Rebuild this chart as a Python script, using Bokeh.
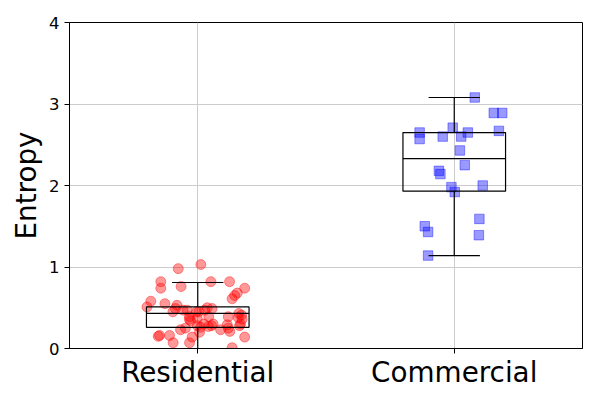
from bokeh.plotting import figure
from bokeh.models import Range1d, FixedTicker
from bokeh.embed import file_html
from bokeh.resources import INLINE

# ---- data ----
categories = ["Residential", "Commercial"]
positions = [1, 2]

res_values = [1.03, 0.98, 0.82, 0.74, 0.76, 0.82, 0.82, 0.74, 0.68, 0.65,
              0.61, 0.58, 0.51, 0.55, 0.53, 0.49, 0.45, 0.47, 0.47, 0.39,
              0.34, 0.45, 0.50, 0.49, 0.47, 0.45, 0.39, 0.37, 0.39, 0.38,
              0.36, 0.30, 0.28, 0.30, 0.28, 0.23, 0.25, 0.21, 0.26, 0.28,
              0.23, 0.25, 0.14, 0.01, 0.15, 0.16, 0.16, 0.07, 0.07, 0.14,
              0.20, 0.41, 0.43, 0.29, 0.27, 0.30, 0.36]
res_jitter = [0.012, -0.076, -0.144, -0.144, -0.065, 0.051, 0.124, 0.183, 0.154, 0.144,
              0.134, -0.183, -0.198, -0.128, -0.081, -0.087, -0.097, -0.057, -0.041, -0.032,
              -0.028, -0.005, 0.037, 0.056, 0.027, 0.004, 0.043, -0.002, 0.119, 0.158,
              0.173, 0.167, 0.163, 0.024, 0.054, 0.089, 0.119, 0.125, 0.011, -0.002,
              -0.067, -0.048, 0.183, 0.134, -0.154, -0.149, -0.110, -0.096, -0.032, -0.022,
              0.007, 0.171, 0.160, 0.115, 0.041, 0.060, -0.033]

com_values = [3.08, 2.89, 2.89, 2.65, 2.57, 2.71, 2.60, 2.60, 2.65, 2.67, 2.43,
              2.25, 2.18, 2.14, 1.98, 1.92, 2.00, 1.59, 1.50, 1.43, 1.39, 1.14]
com_jitter = [0.080, 0.154, 0.187, -0.135, -0.135, -0.006, -0.045, 0.027, 0.053, 0.174, 0.022,
              0.041, -0.060, -0.054, -0.011, 0.002, 0.111, 0.098, -0.115, -0.102, 0.096, -0.102]

# box statistics: [Residential, Commercial]
q1 = [0.26, 1.93]
median = [0.43, 2.33]
q3 = [0.51, 2.65]
whisker_low = [0.0, 1.14]
whisker_high = [0.81, 3.08]

y_ticks = [0, 1, 2, 3, 4]

FONT = "DejaVu Sans"
BOX_HALF = 0.2
CAP_HALF = 0.1

p = figure(frame_width=513, frame_height=326, output_backend="svg",
           toolbar_location=None, x_range=Range1d(0.5, 2.5), y_range=Range1d(0, 4),
           min_border_left=69, min_border_right=6, min_border_top=22, min_border_bottom=45)
p.background_fill_color = "white"
p.border_fill_color = "white"
p.outline_line_color = "black"
p.outline_line_width = 1

# grid
for g in (p.xgrid, p.ygrid):
    g.grid_line_color = "#cccccc"
    g.grid_line_width = 1
p.xgrid.ticker = FixedTicker(ticks=positions)
p.ygrid.ticker = FixedTicker(ticks=y_ticks)

# points
res_x = [positions[0] + j for j in res_jitter]
com_x = [positions[1] + j for j in com_jitter]
p.scatter(res_x, res_values, marker="circle", size=10, color="red", alpha=0.4)
p.scatter(com_x, com_values, marker="square", size=9.5, color="blue", alpha=0.4)

# boxes
left = [x - BOX_HALF for x in positions]
right = [x + BOX_HALF for x in positions]
p.quad(left=left, right=right, bottom=q1, top=q3, fill_color=None,
       line_color="black", line_width=1.2)
p.segment(x0=left, x1=right, y0=median, y1=median, line_color="black", line_width=1.2)
p.segment(x0=positions, x1=positions, y0=q3, y1=whisker_high, line_color="black", line_width=1.2)
p.segment(x0=positions, x1=positions, y0=q1, y1=whisker_low, line_color="black", line_width=1.2)
cap_l = [x - CAP_HALF for x in positions]
cap_r = [x + CAP_HALF for x in positions]
p.segment(x0=cap_l, x1=cap_r, y0=whisker_high, y1=whisker_high, line_color="black", line_width=1.2)
p.segment(x0=cap_l, x1=cap_r, y0=whisker_low, y1=whisker_low, line_color="black", line_width=1.2)

# axes
p.xaxis.ticker = FixedTicker(ticks=positions)
p.xaxis.major_label_overrides = {pos: c for pos, c in zip(positions, categories)}
p.yaxis.ticker = FixedTicker(ticks=y_ticks)
p.yaxis.axis_label = "Entropy"

for ax in (p.xaxis, p.yaxis):
    ax.axis_line_color = "black"
    ax.major_tick_line_color = "black"
    ax.major_tick_out = 5
    ax.major_tick_in = 0
    ax.minor_tick_line_color = None
    ax.major_label_text_font = FONT
    ax.major_label_text_color = "black"
    ax.axis_label_text_font = FONT
    ax.axis_label_text_font_style = "normal"
    ax.axis_label_text_color = "black"

p.xaxis.major_label_text_font_size = "27.8px"
p.xaxis.major_label_standoff = 2
p.yaxis.major_label_text_font_size = "16.5px"
p.yaxis.major_label_standoff = 5
p.yaxis.axis_label_text_font_size = "27.8px"
p.yaxis.axis_label_standoff = 3

open("out.html", "w").write(file_html(p, INLINE))
